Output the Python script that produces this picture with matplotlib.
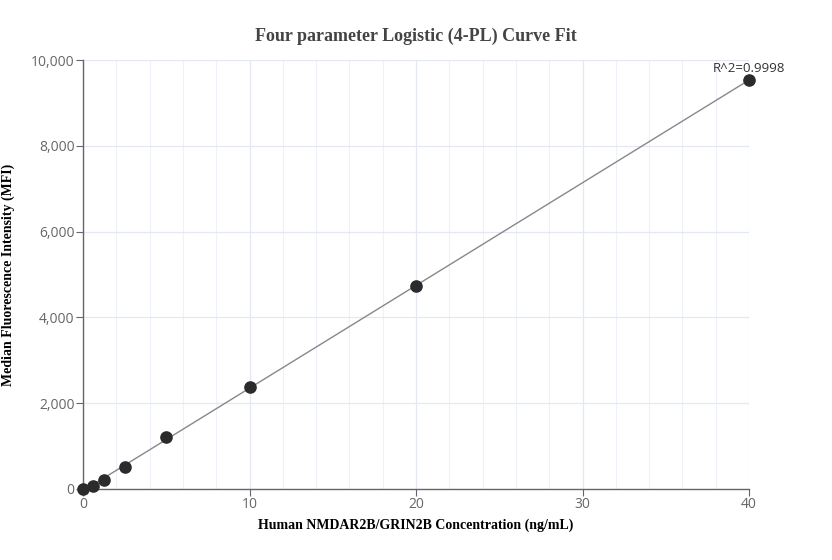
import numpy as np
import matplotlib.pyplot as plt
from matplotlib.ticker import FuncFormatter, MultipleLocator

# datos
conc = [0, 0.625, 1.25, 2.5, 5, 10, 20, 40]
mfi = [10, 70, 210, 510, 1210, 2380, 4730, 9530]
r2_text = "R^2=0.9998"

titulo = "Four parameter Logistic (4-PL) Curve Fit"
x_label = "Human NMDAR2B/GRIN2B Concentration (ng/mL)"
y_label = "Median Fluorescence Intensity (MFI)"

fig = plt.figure(figsize=(8.32, 5.6), dpi=100)
ax = fig.add_axes([83 / 832, 1 - 489 / 560, 666 / 832, 429 / 560])

# curva ajustada (practicamente recta)
coef = np.polyfit(conc, mfi, 1)
xs = np.linspace(min(conc), max(conc), 200)
ax.plot(xs, np.polyval(coef, xs), color="#888888", linewidth=1, zorder=2)
ax.scatter(conc, mfi, s=65, color="#2b2b2b", zorder=3, clip_on=False)

ax.annotate(r2_text, (conc[-1], mfi[-1]), xytext=(0, 4), textcoords="offset points",
            ha="center", va="bottom", fontsize=9.5, color="#333333", family="Open Sans")

ax.set_xlim(0, 40)
ax.set_ylim(0, 10000)
ax.xaxis.set_major_locator(MultipleLocator(10))
ax.xaxis.set_minor_locator(MultipleLocator(2))
ax.yaxis.set_major_locator(MultipleLocator(2000))
ax.yaxis.set_major_formatter(FuncFormatter(lambda v, p: f"{int(v):,}"))

ax.grid(which="major", color="#e3e8f3", linewidth=0.9)
ax.grid(which="minor", axis="x", color="#eef1f8", linewidth=0.8)
ax.set_axisbelow(True)

for s in ["top", "right"]:
    ax.spines[s].set_visible(False)
for s in ["left", "bottom"]:
    ax.spines[s].set_color("#666666")
    ax.spines[s].set_linewidth(1)

ax.tick_params(which="major", length=5, color="#666666", labelcolor="#666666",
               labelsize=10, pad=1)
ax.tick_params(which="minor", length=0)
for lab in ax.get_xticklabels() + ax.get_yticklabels():
    lab.set_family("Open Sans")

ax.set_title(titulo, family="Liberation Serif", fontweight="bold", fontsize=13,
             color="#444444", pad=14)
ax.set_xlabel(x_label, family="Liberation Serif", fontweight="bold", fontsize=10,
              color="black")
ax.set_ylabel(y_label, family="Liberation Serif", fontweight="bold", fontsize=10,
              color="black")
ax.xaxis.set_label_coords(0.5, -0.068)
ax.yaxis.set_label_coords(-0.102, 0.498)

fig.savefig("out.png", dpi=100)
